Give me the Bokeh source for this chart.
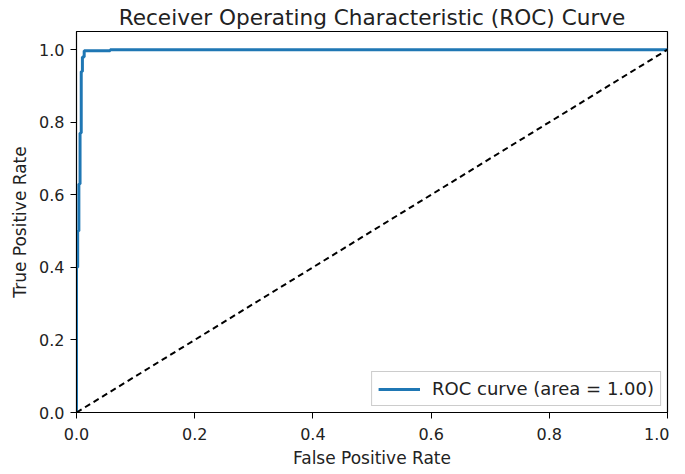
from bokeh.plotting import figure
from bokeh.embed import file_html
from bokeh.resources import INLINE
from bokeh.models import FixedTicker, Legend, LegendItem, PrintfTickFormatter

fpr = [0.0, 0.0, 0.002, 0.002, 0.004, 0.004, 0.006, 0.006, 0.008, 0.008, 0.010, 0.010, 0.013, 0.013, 0.057, 0.057, 1.0]
tpr = [0.0, 0.40, 0.40, 0.50, 0.50, 0.63, 0.63, 0.77, 0.77, 0.94, 0.94, 0.98, 0.98, 0.997, 0.997, 1.0, 1.0]
diag_x = [0.0, 1.0]
diag_y = [0.0, 1.0]
ticks = [0.0, 0.2, 0.4, 0.6, 0.8, 1.0]

FONT = "DejaVu Sans"

p = figure(output_backend="svg", toolbar_location=None,
           x_range=(0, 1), y_range=(0, 1.05),
           min_border_left=76, min_border_right=2, min_border_top=31, min_border_bottom=50,
           frame_width=591, frame_height=381)
p.title.text = "Receiver Operating Characteristic (ROC) Curve"
p.title.align = "center"
p.title.text_font = FONT
p.title.text_font_style = "normal"
p.title.text_font_size = "21.6px"
p.title.text_color = "#222222"
p.title.offset = 0
p.title.standoff = 4

roc = p.line(fpr, tpr, line_color="#1f77b4", line_width=3)
p.line(diag_x, diag_y, line_color="black", line_width=2, line_dash="6 4")

p.xgrid.visible = False
p.ygrid.visible = False
p.outline_line_color = "black"
p.outline_line_width = 1.2
p.outline_line_alpha = 1

for ax in (p.xaxis, p.yaxis):
    ax.ticker = FixedTicker(ticks=ticks)
    ax.formatter = PrintfTickFormatter(format="%.1f")
    ax.minor_tick_line_color = None
    ax.major_tick_out = 6
    ax.major_tick_in = 0
    ax.axis_line_color = "black"
    ax.major_tick_line_color = "black"
    ax.major_label_text_font = FONT
    ax.major_label_text_font_size = "16px"
    ax.major_label_text_color = "#222222"
    ax.axis_label_text_font = FONT
    ax.axis_label_text_font_size = "17px"
    ax.axis_label_text_font_style = "normal"
    ax.axis_label_text_color = "#222222"

p.xaxis.axis_label = "False Positive Rate"
p.yaxis.axis_label = "True Positive Rate"
p.xaxis.axis_label_standoff = 5
p.yaxis.axis_label_standoff = 6
p.xaxis.major_label_standoff = 9
p.yaxis.major_label_standoff = 6

legend = Legend(items=[LegendItem(label="ROC curve (area = 1.00)", renderers=[roc])],
                location="bottom_right")
legend.label_text_font = FONT
legend.label_text_font_size = "18px"
legend.label_text_color = "#222222"
legend.border_line_color = "#cccccc"
legend.border_line_alpha = 1
legend.background_fill_alpha = 0.8
legend.glyph_width = 42
legend.margin = 6
legend.padding = 6
legend.label_standoff = 12
p.add_layout(legend)

open("out.html", "w").write(file_html(p, INLINE))
